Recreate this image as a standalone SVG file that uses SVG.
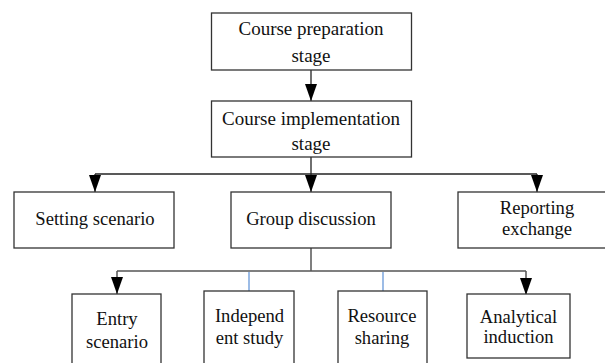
<svg xmlns="http://www.w3.org/2000/svg" width="605" height="363" viewBox="0 0 605 363">
<style>
.box{fill:#fff;stroke:#333;stroke-width:1.3}
.t{font-family:'Liberation Serif','Times New Roman',Tinos,Times,'DejaVu Serif',serif;font-size:18.6px;fill:#111;text-anchor:middle}
.c{fill:none;stroke:#222;stroke-width:1.3}
.g{fill:none;stroke:#555;stroke-width:1.5}
.b{fill:none;stroke:#5b8fd6;stroke-width:1.2}
</style>
<defs>
<marker id="ah" viewBox="0 0 17 12" refX="17" refY="6" markerWidth="17" markerHeight="12" markerUnits="userSpaceOnUse" orient="auto">
<path d="M0,0 L17,6 L0,12 Z" fill="#000"/>
</marker>
</defs>
<rect width="605" height="363" fill="#fff"/>
<g id="connectors">
<path class="c" d="M311,70 V101" marker-end="url(#ah)"/>
<path class="c" d="M311,157 V174"/>
<path class="c" d="M95,174 H537"/>
<path class="c" d="M95,174 V192" marker-end="url(#ah)"/>
<path class="c" d="M311,174 V192" marker-end="url(#ah)"/>
<path class="c" d="M537,174 V192" marker-end="url(#ah)"/>
<path class="g" d="M311,248 V271"/>
<path class="g" d="M117,271 H526"/>
<path class="g" d="M117,271 V294" marker-end="url(#ah)"/>
<path class="g" d="M526,271 V295" marker-end="url(#ah)"/>
<path class="b" d="M249,272 V291"/>
<path class="b" d="M383,272 V291"/>
</g>
<g id="prep">
<rect class="box" x="211.5" y="13" width="200" height="57"/>
<text class="t" x="311" y="35" style="font-size:19px">Course preparation</text>
<text class="t" x="311" y="62" style="font-size:19px">stage</text>
</g>
<g id="impl">
<rect class="box" x="211.5" y="101" width="200" height="56"/>
<text class="t" x="311" y="125" style="font-size:19px">Course implementation</text>
<text class="t" x="311" y="150" style="font-size:19px">stage</text>
</g>
<g id="setting">
<rect class="box" x="14" y="192" width="160" height="56"/>
<text class="t" x="95" y="225">Setting scenario</text>
</g>
<g id="group">
<rect class="box" x="231" y="192" width="160" height="56"/>
<text class="t" x="311" y="225">Group discussion</text>
</g>
<g id="reporting">
<rect class="box" x="458" y="192" width="150" height="56"/>
<text class="t" x="537" y="214">Reporting</text>
<text class="t" x="537" y="235">exchange</text>
</g>
<g id="entry">
<rect class="box" x="72" y="294" width="89" height="75"/>
<text class="t" x="117" y="325">Entry</text>
<text class="t" x="117" y="348">scenario</text>
</g>
<g id="independ">
<rect class="box" x="204" y="291" width="90" height="78"/>
<text class="t" x="249.5" y="322">Independ</text>
<text class="t" x="249.5" y="344">ent study</text>
</g>
<g id="resource">
<rect class="box" x="338" y="291" width="89" height="78"/>
<text class="t" x="382" y="322">Resource</text>
<text class="t" x="382" y="344">sharing</text>
</g>
<g id="analytical">
<rect class="box" x="467" y="294" width="103" height="64"/>
<text class="t" x="518.5" y="323">Analytical</text>
<text class="t" x="518.5" y="343">induction</text>
</g>
</svg>
